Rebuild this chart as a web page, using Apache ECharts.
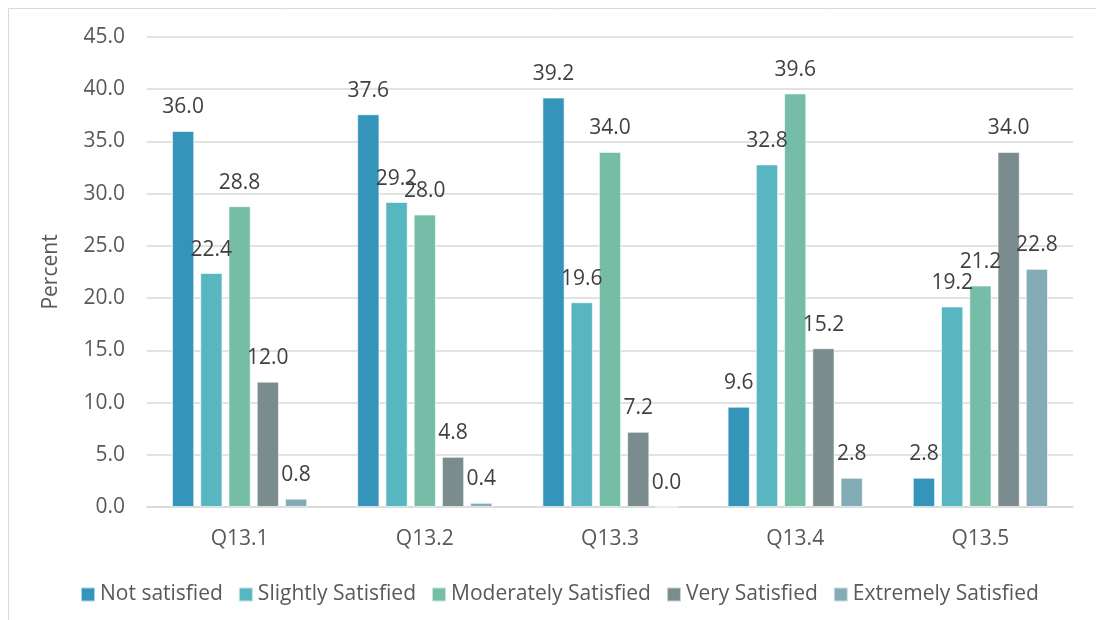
<!DOCTYPE html>
<html>
<head>
<meta charset="utf-8">
<script src="https://cdn.jsdelivr.net/npm/echarts@6/dist/echarts.min.js"></script>
<style>
  html, body { margin: 0; padding: 0; background: #ffffff; }
  #chart { width: 1096px; height: 620px; }
</style>
</head>
<body>
<div id="chart"></div>
<script>
// Satisfaction ratings per question (percent of respondents)
const categories = ['Q13.1', 'Q13.2', 'Q13.3', 'Q13.4', 'Q13.5'];
const seriesNames = ['Not satisfied', 'Slightly Satisfied', 'Moderately Satisfied', 'Very Satisfied', 'Extremely Satisfied'];
const notSatisfied = [36.0, 37.6, 39.2, 9.6, 2.8];
const slightlySatisfied = [22.4, 29.2, 19.6, 32.8, 19.2];
const moderatelySatisfied = [28.8, 28.0, 34.0, 39.6, 21.2];
const verySatisfied = [12.0, 4.8, 7.2, 15.2, 34.0];
const extremelySatisfied = [0.8, 0.4, 0.0, 2.8, 22.8];
const yTicks = { min: 0, max: 45, interval: 5 };

const seriesValues = [notSatisfied, slightlySatisfied, moderatelySatisfied, verySatisfied, extremelySatisfied];
const colors = ['#3494BA', '#58B6C0', '#75BDA7', '#7A8C8E', '#84ACB6'];
const font = "'Open Sans', 'Noto Sans', sans-serif";

const chart = echarts.init(document.getElementById('chart'), null, { renderer: 'canvas' });

chart.setOption({
  animation: false,
  backgroundColor: '#ffffff',
  color: colors,
  textStyle: { fontFamily: font },
  graphic: [{
    type: 'rect',
    shape: { x: 8.5, y: 8.5, width: 1200, height: 800 },
    style: { fill: 'none', stroke: '#d9d9d9', lineWidth: 1 },
    silent: true,
    z: -1
  }],
  grid: { left: 147, right: 23, top: 37, bottom: 113, containLabel: false },
  legend: {
    bottom: 10,
    left: 75,
    itemWidth: 14,
    itemHeight: 14,
    itemGap: 15,
    icon: 'rect',
    textStyle: { fontSize: 21, color: '#595959', fontFamily: font },
    data: seriesNames
  },
  xAxis: {
    type: 'category',
    data: categories,
    axisLine: { lineStyle: { color: '#d9d9d9', width: 1.5 } },
    axisTick: { show: false },
    axisLabel: { fontSize: 21, color: '#595959', margin: 22, fontFamily: font }
  },
  yAxis: {
    type: 'value',
    min: yTicks.min,
    max: yTicks.max,
    interval: yTicks.interval,
    name: 'Percent',
    nameLocation: 'middle',
    nameGap: 85,
    nameTextStyle: { fontSize: 21, color: '#595959', fontFamily: font },
    axisLine: { show: false },
    axisTick: { show: false },
    splitLine: { lineStyle: { color: '#d9d9d9', width: 1.5 } },
    axisLabel: {
      fontSize: 21, color: '#595959', margin: 22, fontFamily: font,
      formatter: v => v.toFixed(1)
    }
  },
  series: seriesNames.map((name, i) => ({
    name: name,
    type: 'bar',
    data: seriesValues[i],
    barGap: '27%',
    barCategoryGap: '27%',
    itemStyle: { color: colors[i], borderColor: 'rgba(255,255,255,0.6)', borderWidth: 1 },
    label: {
      show: true,
      position: 'top',
      distance: 13,
      fontSize: 21,
      color: '#404040',
      fontFamily: font,
      formatter: p => p.value.toFixed(1)
    }
  }))
});
</script>
</body>
</html>
